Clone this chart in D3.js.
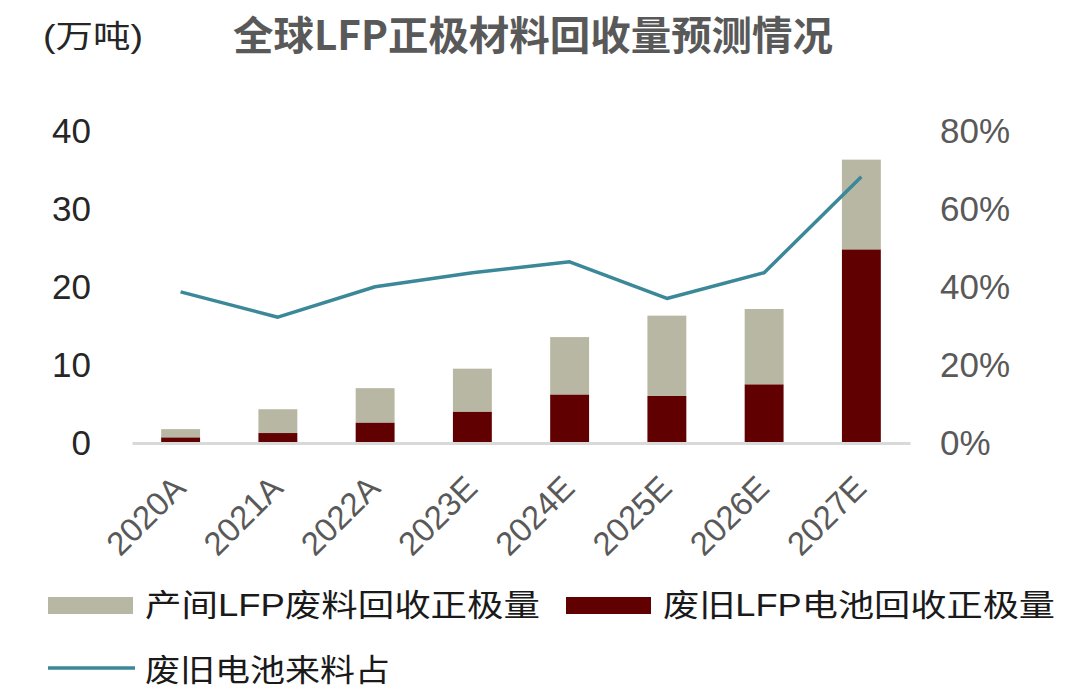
<!DOCTYPE html>
<html><head><meta charset="utf-8">
<script src="https://cdn.jsdelivr.net/npm/d3@7"></script>
<style>
html,body{margin:0;padding:0;background:#fff;}
svg{display:block;}
</style></head>
<body>
<svg id="chart" width="1080" height="695"></svg>
<script>
const categories = ["2020A","2021A","2022A","2023E","2024E","2025E","2026E","2027E"];
const scrapRecycled = [1.05, 3.05, 4.4, 5.5, 7.35, 10.3, 9.65, 11.5];   // 产间LFP废料回收正极量
const batteryRecycled = [0.6, 1.15, 2.5, 3.9, 6.1, 5.9, 7.4, 24.7];     // 废旧LFP电池回收正极量
const batteryShare = [38.5, 32.0, 39.8, 43.4, 46.2, 36.8, 43.4, 68.0];  // 废旧电池来料占 (%)
const leftTicks = [0, 10, 20, 30, 40];
const rightTicks = [0, 20, 40, 60, 80];
const seriesNames = ["产间LFP废料回收正极量", "废旧LFP电池回收正极量", "废旧电池来料占"];
const titleText = "全球LFP正极材料回收量预测情况";
const unitText = "(万吨)";

const colGray = "#b8b7a3", colDark = "#600000", colLine = "#3b8899";
const latin = "'Liberation Sans', Arial, 'Noto Sans CJK SC', sans-serif";

const svg = d3.select("#chart");
const x = d3.scaleBand().domain(categories).range([132, 910]).paddingInner(0.6).paddingOuter(0.3);
const yL = d3.scaleLinear().domain([0, 40]).range([442, 130]);
const yR = d3.scaleLinear().domain([0, 80]).range([442, 130]);

// title & unit
svg.append("text").attr("x", 43).attr("y", 47).text(unitText)
  .attr("font-family", latin).attr("font-size", 31).attr("fill", "#262626")
  .attr("textLength", 100).attr("lengthAdjust", "spacingAndGlyphs");
svg.append("text").attr("x", 233).attr("y", 50).text(titleText)
  .attr("font-family", "'Noto Sans CJK SC', sans-serif").attr("font-weight", "bold")
  .attr("font-size", 40).attr("fill", "#595959")
  .attr("textLength", 600).attr("lengthAdjust", "spacingAndGlyphs");

// stacked bars
const stack = categories.map((c, i) => ({c, dark: batteryRecycled[i], gray: scrapRecycled[i]}));
const g = svg.append("g");
g.selectAll("rect.dark").data(stack).join("rect").attr("class", "dark")
  .attr("x", d => x(d.c)).attr("width", x.bandwidth())
  .attr("y", d => yL(d.dark)).attr("height", d => yL(0) - yL(d.dark)).attr("fill", colDark);
g.selectAll("rect.gray").data(stack).join("rect").attr("class", "gray")
  .attr("x", d => x(d.c)).attr("width", x.bandwidth())
  .attr("y", d => yL(d.dark + d.gray)).attr("height", d => yL(d.dark) - yL(d.dark + d.gray)).attr("fill", colGray);

// x axis line
const xAxis = d3.axisBottom(x).tickSize(0).tickFormat("");
svg.append("g").attr("transform", "translate(0,443)").call(xAxis)
  .call(s => s.select(".domain").attr("stroke", "#d9d9d9").attr("stroke-width", 3));

// x labels
svg.append("g").selectAll("text").data(categories).join("text")
  .attr("transform", d => `translate(${x(d) + x.bandwidth()/2 + 7},490) rotate(-45)`)
  .attr("text-anchor", "end").text(d => d)
  .attr("font-family", latin).attr("font-size", 33).attr("fill", "#595959");

// left axis
const axL = d3.axisLeft(yL).tickValues(leftTicks).tickSize(0).tickPadding(0);
svg.append("g").attr("transform", "translate(91,0)").call(axL)
  .call(s => s.select(".domain").remove())
  .call(s => s.selectAll("text").attr("font-family", latin).attr("font-size", 35).attr("fill", "#262626").attr("dy", "0.35em"));

// right axis
const axR = d3.axisRight(yR).tickValues(rightTicks).tickSize(0).tickPadding(0).tickFormat(d => d + "%");
svg.append("g").attr("transform", "translate(940,0)").call(axR)
  .call(s => s.select(".domain").remove())
  .call(s => s.selectAll("text").attr("font-family", latin).attr("font-size", 35).attr("fill", "#595959").attr("dy", "0.35em"));

// line
const line = d3.line().x((d, i) => x(categories[i]) + x.bandwidth()/2).y(d => yR(d));
svg.append("path").datum(batteryShare).attr("d", line)
  .attr("fill", "none").attr("stroke", colLine).attr("stroke-width", 3.5).attr("stroke-linejoin", "round");

// legend
const lg = svg.append("g").attr("font-family", latin).attr("font-size", 31).attr("fill", "#1a1a1a");
lg.append("rect").attr("x", 48).attr("y", 597).attr("width", 85).attr("height", 17).attr("fill", colGray);
lg.append("text").attr("x", 145).attr("y", 616).text(seriesNames[0])
  .attr("textLength", 395).attr("lengthAdjust", "spacingAndGlyphs");
lg.append("rect").attr("x", 566).attr("y", 597).attr("width", 85).attr("height", 17).attr("fill", colDark);
lg.append("text").attr("x", 663).attr("y", 616).text(seriesNames[1])
  .attr("textLength", 392).attr("lengthAdjust", "spacingAndGlyphs");
lg.append("line").attr("x1", 48).attr("x2", 135).attr("y1", 668).attr("y2", 668)
  .attr("stroke", colLine).attr("stroke-width", 3.5);
lg.append("text").attr("x", 145).attr("y", 681).text(seriesNames[2])
  .attr("textLength", 245).attr("lengthAdjust", "spacingAndGlyphs");
</script>
</body></html>
